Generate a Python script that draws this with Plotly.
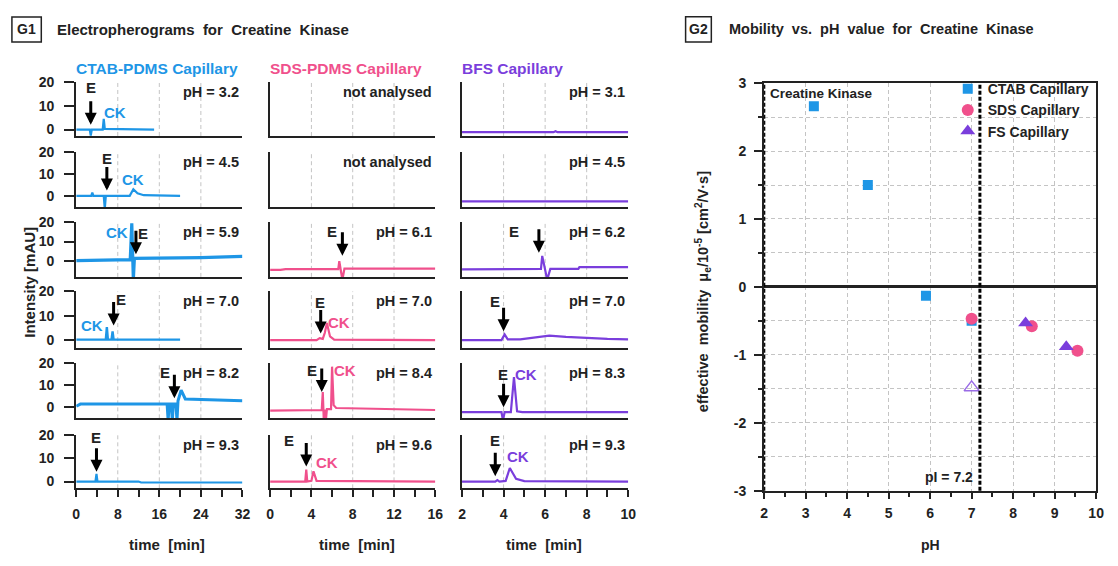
import plotly.graph_objects as go

W, H = 1118, 566
FONT = "Liberation Sans"
INK = "#222222"
BLUE = "#1E96E6"
PINK = "#F0508C"
PURPLE = "#7A3EDC"
GRID = "#c4c4c4"

# ---------------- G1 data: electropherograms (time [min], intensity [mAU]) ----------------
ctab_t_32 = [0, 2.6, 2.8, 3.0, 5.1, 5.3, 5.5, 15]
ctab_i_32 = [0, 0, -2.5, 0, 0, 4.5, 0.3, 0]
ctab_t_45 = [0, 2.9, 3.1, 3.3, 5.3, 5.5, 5.7, 10.3, 11.0, 11.8, 13, 20]
ctab_i_45 = [0, 0, 1.5, 0, 0, -6, 0, 0, 3, 1.2, 0.3, 0]
ctab_t_59 = [0, 5, 10.4, 10.7, 10.85, 11.0, 11.2, 16, 24, 32]
ctab_i_59 = [0, 0.2, 0.5, 19.5, 0, -10, 1.2, 1.3, 1.6, 2.2]
ctab_t_70 = [0, 5.7, 5.9, 6.1, 6.8, 7.0, 7.2, 20]
ctab_i_70 = [0.2, 0.2, 5.3, 0.2, 0.2, 3.6, 0.2, 0.2]
ctab_t_82 = [0, 0.8, 17.5, 17.7, 17.9, 18.3, 18.5, 18.7, 19.2, 19.4, 19.6, 20.2, 21, 26, 32]
ctab_i_82 = [0.5, 1.5, 1.5, -6, 1.5, 1.5, -6, 1.5, 1.5, -6, 3, 7.8, 3.8, 3.5, 3]
ctab_t_93 = [0, 3.7, 3.9, 4.1, 12, 12.5, 32]
ctab_i_93 = [0, 0, 3.3, 0, 0, -0.4, -0.4]

sds_t_61 = [0, 1, 1.5, 6.6, 6.7, 6.85, 7.0, 7.2, 16]
sds_i_61 = [-4.8, -4.8, -4.4, -4.4, -0.3, -4.5, -10, -4.2, -4.2]
sds_t_70 = [0, 4.5, 4.8, 5.1, 5.3, 5.5, 5.8, 6.2, 16]
sds_i_70 = [0, 0, 0.8, 0.5, 3, 7, 1.5, 0.2, 0]
sds_t_84 = [0, 5.0, 5.1, 5.2, 5.3, 5.4, 5.5, 5.9, 6.0, 6.15, 6.4, 10, 14, 16]
sds_i_84 = [-1.5, -1.2, 7, -6, -1, -6, -0.8, -0.8, 18.5, 1, -0.3, -0.7, -1.2, -1.2]
sds_t_96 = [0, 3.4, 3.5, 3.6, 4.0, 4.2, 4.5, 16]
sds_i_96 = [0, 0, 5.1, 0, 0.3, 4.4, 0.3, 0]

bfs_t_31 = [2, 6.4, 6.5, 6.6, 10]
bfs_i_31 = [-1.1, -1.1, -0.7, -1.1, -1.1]
bfs_t_45 = [2, 10]
bfs_i_45 = [-2.5, -2.5]
bfs_t_62 = [2, 3.0, 3.05, 5.8, 5.86, 6.0, 6.1, 6.25, 7.6, 7.65, 10]
bfs_i_62 = [-4.6, -4.6, -4.3, -4.3, 2.5, -4.3, -10, -4.3, -4.3, -3.4, -3.4]
bfs_t_70 = [2, 3.9, 4.05, 4.2, 4.8, 5.5, 6.2, 7, 8, 9, 10]
bfs_i_70 = [0, 0, 2.3, 0.3, 0.3, 1, 1.8, 1.3, 0.8, 0.5, 0.3]
bfs_t_83 = [2, 3.9, 3.97, 4.05, 4.35, 4.5, 4.65, 4.9, 10]
bfs_i_83 = [-2.2, -2.2, -6, -2.2, -2.2, 13.7, -1.8, -2.2, -2.2]
bfs_t_93 = [2, 3.6, 3.7, 3.8, 4.1, 4.3, 4.6, 5, 10]
bfs_i_93 = [0, 0, 0.6, 0, 0.3, 5.8, 1.2, 0.2, 0]

ctab_ph = ["pH = 3.2", "pH = 4.5", "pH = 5.9", "pH = 7.0", "pH = 8.2", "pH = 9.3"]
sds_ph = ["not analysed", "not analysed", "pH = 6.1", "pH = 7.0", "pH = 8.4", "pH = 9.6"]
bfs_ph = ["pH = 3.1", "pH = 4.5", "pH = 6.2", "pH = 7.0", "pH = 8.3", "pH = 9.3"]

# E (EOF marker) arrows: time, arrow tip intensity; E label position
ctab_e_t = [2.8, 5.9, 11.5, 7.2, 18.9, 3.9]
ctab_e_tip = [2.0, 2.4, 3.4, 6.0, 4.1, 4.2]
ctab_elab_t = [2.8, 5.9, 12.9, 8.6, 17.0, 3.75]
ctab_elab_i = [17.7, 17.0, 14.4, 16.7, 15.9, 18.7]
sds_e_t = [None, None, 7.0, 4.9, 5.0, 3.5]
sds_e_tip = [None, None, 2.5, 2.7, 7.0, 6.5]
sds_elab_t = [None, None, 6.0, 4.8, 4.1, 1.8]
sds_elab_i = [None, None, 15.2, 15.4, 16.6, 17.6]
bfs_e_t = [None, None, 5.7, 4.0, 4.0, 3.6]
bfs_e_tip = [None, None, 4.2, 3.6, 0.0, 2.3]
bfs_elab_t = [None, None, 4.5, 3.6, 3.95, 3.6]
bfs_elab_i = [None, None, 15.2, 16.0, 15.1, 17.6]

# CK label positions
ctab_ck_t = [7.5, 11.0, 7.9, 3.1, None, None]
ctab_ck_i = [7.0, 7.4, 15.0, 6.0, None, None]
sds_ck_t = [None, None, None, 6.7, 7.3, 5.5]
sds_ck_i = [None, None, None, 7.3, 16.6, 8.0]
bfs_ck_t = [None, None, None, None, 5.1, 4.7]
bfs_ck_i = [None, None, None, None, 15.0, 10.7]

# ---------------- G2 data: mobility vs pH ----------------
ctab_pH = [3.2, 4.5, 5.9, 7.0]
ctab_mu = [2.66, 1.5, -0.13, -0.5]
sds_pH = [7.0, 8.45, 9.55]
sds_mu = [-0.47, -0.58, -0.94]
fs_pH = [8.3, 9.28]
fs_mu = [-0.53, -0.88]
fs_open_pH = [7.0]
fs_open_mu = [-1.48]
pI_value = 7.2

# ---------------- layout helpers ----------------
def px(x):
    return x / W

def py(y):
    return 1 - y / H

col_l = [73, 269, 463]
col_r = [241, 436, 631]
row_t = [76, 148.3, 220.7, 291.7, 365.7, 439.3]
row_b = [131.7, 205, 276.7, 350, 422.3, 494.3]
y_ranges = [[-2.7, 20], [-5.2, 20], [-8.5, 20], [-3.3, 20], [-5.0, 20], [-2.9, 20]]
x_ranges = [[0, 32], [0, 16], [2, 10]]
x_ticks = [list(range(0, 33, 4)), list(range(0, 17, 2)), list(range(2, 11, 1))]
x_label_step = [8, 4, 2]
x_grid = [[8, 16, 24], [4, 8, 12], [4, 6, 8]]
colors = [BLUE, PINK, PURPLE]
headers = ["CTAB-PDMS Capillary", "SDS-PDMS Capillary", "BFS Capillary"]
# noisy traces drawn a bit thicker
line_w = [[2.2, 2.2, 3.2, 2.4, 3.0, 2.2], [2.2] * 6, [2.2] * 6]

traces_by_col = [
    [(ctab_t_32, ctab_i_32), (ctab_t_45, ctab_i_45), (ctab_t_59, ctab_i_59),
     (ctab_t_70, ctab_i_70), (ctab_t_82, ctab_i_82), (ctab_t_93, ctab_i_93)],
    [None, None, (sds_t_61, sds_i_61), (sds_t_70, sds_i_70), (sds_t_84, sds_i_84), (sds_t_96, sds_i_96)],
    [(bfs_t_31, bfs_i_31), (bfs_t_45, bfs_i_45), (bfs_t_62, bfs_i_62),
     (bfs_t_70, bfs_i_70), (bfs_t_83, bfs_i_83), (bfs_t_93, bfs_i_93)],
]
ph_by_col = [ctab_ph, sds_ph, bfs_ph]
e_by_col = [(ctab_e_t, ctab_e_tip, ctab_elab_t, ctab_elab_i),
            (sds_e_t, sds_e_tip, sds_elab_t, sds_elab_i),
            (bfs_e_t, bfs_e_tip, bfs_elab_t, bfs_elab_i)]
ck_by_col = [(ctab_ck_t, ctab_ck_i), (sds_ck_t, sds_ck_i), (bfs_ck_t, bfs_ck_i)]


def sfx(k):
    return "" if k == 1 else str(k)


fig = go.Figure()
layout = dict(
    width=W, height=H, autosize=False,
    margin=dict(l=0, r=0, t=0, b=0),
    paper_bgcolor="white", plot_bgcolor="white",
    font=dict(family=FONT, color=INK, size=13, weight="bold"),
    showlegend=True,
)
annotations = []
shapes = []

tickfont = dict(family=FONT, size=14, color=INK, weight="bold")

for r in range(6):
    for c in range(3):
        k = r * 3 + c + 1
        s = sfx(k)
        bottom = (r == 5)
        xa = dict(
            domain=[px(col_l[c]), px(col_r[c])], range=x_ranges[c], anchor="y" + s,
            showline=True, linecolor=INK, linewidth=2, showgrid=False, zeroline=False,
            fixedrange=True,
        )
        if bottom:
            xa.update(
                tickmode="array", tickvals=x_ticks[c],
                ticktext=[str(v) if (v - x_ranges[c][0]) % x_label_step[c] == 0 else " " for v in x_ticks[c]],
                ticks="outside", ticklen=7, tickwidth=1.5, tickcolor=INK, tickfont=tickfont,
                showticklabels=True, ticklabelstandoff=5,
            )
        else:
            xa.update(ticks="", showticklabels=False)
        ya = dict(
            domain=[py(row_b[r]), py(row_t[r])], range=y_ranges[r], anchor="x" + s,
            showline=True, linecolor=INK, linewidth=2, showgrid=False, zeroline=False,
            fixedrange=True,
        )
        if c == 0:
            ya.update(tickmode="array", tickvals=[0, 10, 20], ticks="outside", ticklen=10,
                      tickwidth=1.5, tickcolor=INK, tickfont=tickfont, showticklabels=True,
                      ticklabelstandoff=7)
        else:
            ya.update(ticks="", showticklabels=False)
        layout["xaxis" + s] = xa
        layout["yaxis" + s] = ya

        for gx in x_grid[c]:
            shapes.append(dict(type="line", xref="x" + s, yref="y" + s + " domain",
                               x0=gx, x1=gx, y0=0, y1=1, layer="below",
                               line=dict(color=GRID, width=1, dash="4px,3px")))

        tr = traces_by_col[c][r]
        if tr is not None:
            fig.add_trace(go.Scatter(x=tr[0], y=tr[1], mode="lines", xaxis="x" + s, yaxis="y" + s,
                                     line=dict(color=colors[c], width=line_w[c][r]), showlegend=False,
                                     hoverinfo="skip", cliponaxis=True))

        # pH label
        annotations.append(dict(text=ph_by_col[c][r], xref="paper", yref="paper",
                                x=px(col_r[c] - 1), y=py(row_t[r] + 10), xanchor="right",
                                yanchor="middle", showarrow=False,
                                font=dict(family=FONT, size=14.5, color=INK, weight="bold")))
        # E arrow + label
        et, etip, elt, eli = e_by_col[c]
        if et[r] is not None:
            annotations.append(dict(text="", xref="x" + s, yref="y" + s, x=et[r], y=etip[r],
                                    showarrow=True, ax=0, ay=-25, arrowhead=2, arrowsize=0.8,
                                    arrowwidth=3, arrowcolor="black", standoff=0))
            annotations.append(dict(text="E", xref="x" + s, yref="y" + s, x=elt[r], y=eli[r],
                                    showarrow=False, xanchor="center", yanchor="middle",
                                    font=dict(family=FONT, size=15, color=INK, weight="bold")))
        ckt, cki = ck_by_col[c]
        if ckt[r] is not None:
            annotations.append(dict(text="CK", xref="x" + s, yref="y" + s, x=ckt[r], y=cki[r],
                                    showarrow=False, xanchor="center", yanchor="middle",
                                    font=dict(family=FONT, size=15, color=colors[c], weight="bold")))

for c in range(3):
    annotations.append(dict(text=headers[c], xref="paper", yref="paper", x=px(col_l[c] - 2), y=py(62),
                            xanchor="left", yanchor="middle", showarrow=False,
                            font=dict(family=FONT, size=15.5, color=colors[c], weight="bold")))

for xc in [165, 357, 546]:
    annotations.append(dict(text="time\u00a0 [min]", xref="paper", yref="paper", x=px(xc), y=py(552),
                            xanchor="center", yanchor="middle", showarrow=False,
                            font=dict(family=FONT, size=15, color=INK, weight="bold")))

annotations.append(dict(text="Intensity [mAU]", xref="paper", yref="paper", x=px(25), y=py(282),
                        textangle=-90, xanchor="center", yanchor="middle", showarrow=False,
                        font=dict(family=FONT, size=15, color=INK, weight="bold")))

# panel titles
annotations.append(dict(text="G1", xref="paper", yref="paper", x=px(23), y=py(22), showarrow=False,
                        xanchor="center", yanchor="middle", font=dict(family=FONT, size=14, color=INK, weight="bold")))
annotations.append(dict(text="Electropherograms\u00a0 for\u00a0 Creatine\u00a0 Kinase", xref="paper", yref="paper",
                        x=px(52), y=py(22), showarrow=False, xanchor="left", yanchor="middle",
                        font=dict(family=FONT, size=15, color=INK, weight="bold")))
shapes.append(dict(type="rect", xref="paper", yref="paper", x0=px(8), x1=px(37.7), y0=py(35), y1=py(9.3),
                   line=dict(color=INK, width=1.5)))
annotations.append(dict(text="G2", xref="paper", yref="paper", x=px(702), y=py(22), showarrow=False,
                        xanchor="center", yanchor="middle", font=dict(family=FONT, size=14, color=INK, weight="bold")))
annotations.append(dict(text="Mobility\u00a0 vs.\u00a0 pH\u00a0 value\u00a0 for\u00a0 Creatine\u00a0 Kinase", xref="paper", yref="paper",
                        x=px(730.5), y=py(22), showarrow=False, xanchor="left", yanchor="middle",
                        font=dict(family=FONT, size=14.5, color=INK, weight="bold")))
shapes.append(dict(type="rect", xref="paper", yref="paper", x0=px(689), x1=px(715), y0=py(35), y1=py(9),
                   line=dict(color=INK, width=1.5)))

# ---------------- G2 axes ----------------
k2 = "19"
y_tick_vals = [-3, -2, -1, 0, 1, 2, 3]
layout["xaxis" + k2] = dict(
    domain=[px(768.3), px(1104)], range=[2, 10], anchor="y" + k2,
    showline=True, mirror=True, linecolor=INK, linewidth=2,
    tickmode="array", tickvals=list(range(2, 11)), ticks="outside", ticklen=6, tickwidth=1.5, tickcolor=INK,
    tickfont=tickfont, showgrid=True, gridcolor=GRID, griddash="4px,3px", gridwidth=1, zeroline=False,
    ticklabelstandoff=3,
    minor=dict(dtick=0.5, tick0=2, ticks="outside", ticklen=4, tickwidth=1.5, tickcolor=INK, showgrid=False),
    fixedrange=True,
)
layout["yaxis" + k2] = dict(
    domain=[py(496.7), py(77.3)], range=[-3, 3], anchor="x" + k2,
    showline=True, mirror=True, linecolor=INK, linewidth=2,
    tickmode="array", tickvals=y_tick_vals, ticktext=[str(v) for v in y_tick_vals],
    ticks="outside", ticklen=8, tickwidth=1.5, tickcolor=INK, tickfont=tickfont, ticklabelstandoff=5,
    showgrid=True, gridcolor=GRID, griddash="4px,3px", gridwidth=1,
    minor=dict(dtick=0.5, tick0=0, ticks="outside", ticklen=4, tickwidth=1.5, tickcolor=INK,
               showgrid=True, gridcolor=GRID, griddash="4px,3px", gridwidth=1),
    zeroline=True, zerolinecolor=INK, zerolinewidth=2.5, fixedrange=True,
)

# pI and left dotted lines
shapes.append(dict(type="line", xref="x" + k2, yref="y" + k2 + " domain", x0=pI_value, x1=pI_value, y0=0, y1=1,
                   line=dict(color="black", width=3, dash="4px,2px")))
shapes.append(dict(type="line", xref="x" + k2, yref="y" + k2 + " domain", x0=2, x1=2, y0=0, y1=1,
                   line=dict(color="black", width=2.5, dash="4px,2px")))

fig.add_trace(go.Scatter(x=ctab_pH, y=ctab_mu, mode="markers", xaxis="x" + k2, yaxis="y" + k2,
                         name="CTAB Capillary", marker=dict(symbol="square", size=10, color=BLUE),
                         hoverinfo="skip"))
fig.add_trace(go.Scatter(x=sds_pH, y=sds_mu, mode="markers", xaxis="x" + k2, yaxis="y" + k2,
                         name="SDS Capillary", marker=dict(symbol="circle", size=12, color=PINK),
                         hoverinfo="skip"))
fig.add_trace(go.Scatter(x=fs_pH, y=fs_mu, mode="markers", xaxis="x" + k2, yaxis="y" + k2,
                         name="FS Capillary", marker=dict(symbol="triangle-up", size=13, color=PURPLE),
                         hoverinfo="skip"))
fig.add_trace(go.Scatter(x=fs_open_pH, y=fs_open_mu, mode="markers", xaxis="x" + k2, yaxis="y" + k2,
                         name="FS open", showlegend=False,
                         marker=dict(symbol="triangle-up-open", size=13, color="#9A6CE6", line=dict(width=1.5)),
                         hoverinfo="skip"))

annotations.append(dict(text="Creatine Kinase", xref="paper", yref="paper", x=px(772), y=py(88),
                        xanchor="left", yanchor="middle", showarrow=False,
                        font=dict(family=FONT, size=13.5, color=INK, weight="bold")))
annotations.append(dict(text="pI = 7.2", xref="paper", yref="paper", x=px(982), y=py(483),
                        xanchor="right", yanchor="middle", showarrow=False,
                        font=dict(family=FONT, size=14, color=INK, weight="bold")))
annotations.append(dict(text="pH", xref="paper", yref="paper", x=px(936.7), y=py(553),
                        xanchor="center", yanchor="middle", showarrow=False,
                        font=dict(family=FONT, size=14, color=INK, weight="bold")))
annotations.append(dict(text="effective\u00a0 mobility\u00a0 μ<sub>e</sub>/10<sup>-5</sup> [cm<sup>2</sup>/V·s]",
                        xref="paper", yref="paper", x=px(706), y=py(292), textangle=-90,
                        xanchor="center", yanchor="middle", showarrow=False,
                        font=dict(family=FONT, size=14.5, color=INK, weight="bold")))

layout["legend"] = dict(x=px(954), y=py(67), xanchor="left", yanchor="top", bgcolor="rgba(0,0,0,0)",
                        borderwidth=0, font=dict(family=FONT, size=14, color=INK, weight="bold"),
                        tracegroupgap=0, itemwidth=30)
layout["annotations"] = annotations
layout["shapes"] = shapes
fig.update_layout(**layout)

fig.write_html("out.html")
